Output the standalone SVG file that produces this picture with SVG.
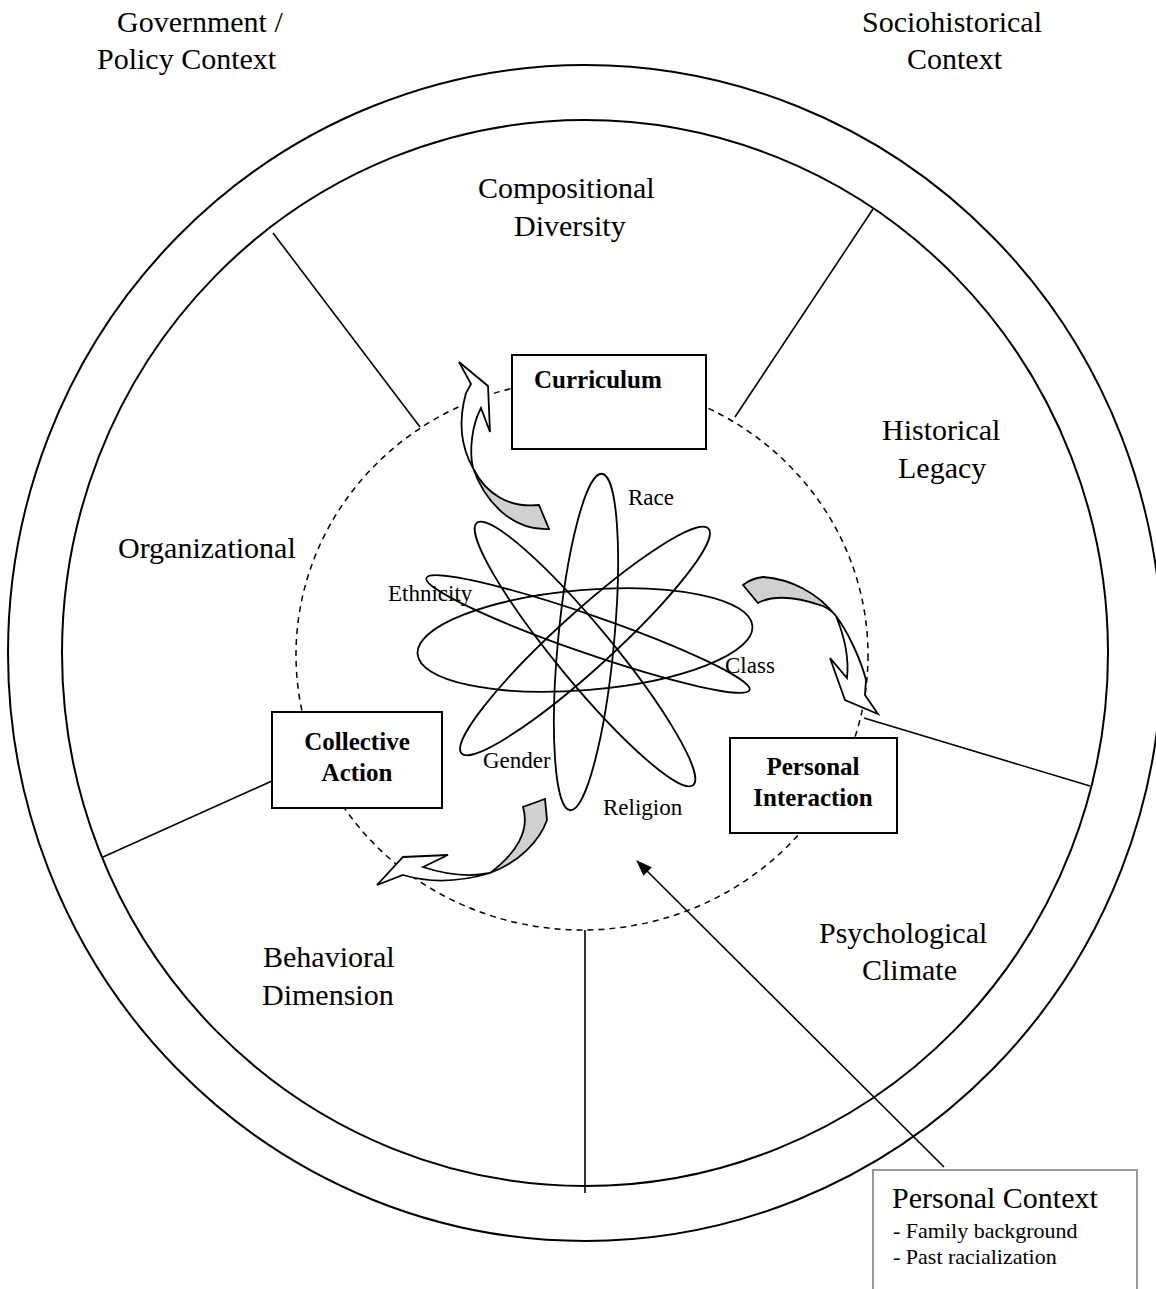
<svg xmlns="http://www.w3.org/2000/svg" width="1156" height="1289" viewBox="0 0 1156 1289">
<style>
.big{font-family:"Liberation Serif","Times New Roman",serif;font-size:30px;fill:#000}
.sm{font-family:"Liberation Serif","Times New Roman",serif;font-size:23px;fill:#000}
.bd{font-family:"Liberation Serif","Times New Roman",serif;font-size:25px;font-weight:bold;fill:#000}
.ln{stroke:#000;stroke-width:1.6;fill:none}
.ring{stroke:#000;stroke-width:2;fill:none}
.box{stroke:#000;stroke-width:2;fill:#fff}
.atom{stroke:#000;stroke-width:1.8;fill:none}
.aw{fill:#fff;stroke:#000;stroke-width:1.8;stroke-linejoin:miter}
.ag{fill:#d0d0d0;stroke:#000;stroke-width:1.8}
</style>
<defs>
<marker id="ah2" viewBox="0 0 16 12" refX="15" refY="6" markerWidth="16" markerHeight="12" markerUnits="userSpaceOnUse" orient="auto">
<path d="M0,0 L16,6 L0,12 z" fill="#000"/>
</marker>
</defs>

<g id="rings">
<ellipse class="ring" cx="585" cy="653" rx="577" ry="588"/>
<ellipse class="ring" cx="585" cy="653" rx="523" ry="533"/>
<ellipse cx="582" cy="655" rx="286" ry="275" fill="none" stroke="#000" stroke-width="1.5" stroke-dasharray="6,5"/>
</g>

<g id="connectors">
<line class="ln" x1="273" y1="233" x2="420" y2="427"/>
<line class="ln" x1="873" y1="209" x2="735" y2="417"/>
<line class="ln" x1="864" y1="718" x2="1090" y2="786"/>
<line class="ln" x1="585" y1="930" x2="585" y2="1193"/>
<line class="ln" x1="103" y1="857" x2="272" y2="781"/>
<line x1="944" y1="1167" x2="637" y2="861" stroke="#000" stroke-width="1.6" marker-end="url(#ah2)"/>
</g>

<g id="atom">
<ellipse class="atom" cx="585" cy="640" rx="168" ry="50" transform="rotate(-4.8 585 640)"/>
<ellipse class="atom" cx="586" cy="642" rx="28" ry="169" transform="rotate(5.4 586 642)"/>
<ellipse class="atom" cx="585" cy="654" rx="170" ry="28" transform="rotate(50.5 585 654)"/>
<ellipse class="atom" cx="585" cy="641" rx="167" ry="28" transform="rotate(-42.3 585 641)"/>
<ellipse class="atom" cx="588" cy="634" rx="171" ry="19" transform="rotate(19.1 588 634)"/>
</g>

<g id="atom-labels">
<text class="sm" x="628" y="505">Race</text>
<text class="sm" x="388" y="601">Ethnicity</text>
<text class="sm" x="725" y="673">Class</text>
<text class="sm" x="483" y="768">Gender</text>
<text class="sm" x="603" y="815">Religion</text>
</g>

<g id="arrow-curriculum">
<path class="ag" d="M473,468 C486,495 510,508 539,505 L549,529 C515,531 486,505 473,468 Z"/>
<path class="aw" d="M459,362 L488,386 L490,432 L481,408 C472,425 469,450 473,468 C460,445 459,418 466,393 L471,384 Z"/>
</g>

<g id="arrow-interaction">
<path class="ag" d="M836,616 C817,592 790,579 763,577 C755,578 748,581 743,585 L758,603 C773,595 797,597 823,606 C829,609 833,612 836,616 Z"/>
<path class="aw" d="M836,616 C848,632 861,660 866,680 L865,695 L878,714 L845,700 L830,658 L847,678 C849,660 845,638 836,616 Z"/>
</g>

<g id="arrow-collective">
<path class="ag" d="M490,873 C520,862 540,840 547,820 L545,799 L523,807 C530,830 517,853 490,873 Z"/>
<path class="aw" d="M490,873 C470,877 447,875 423,867 L448,855 L403,857 L377,885 L403,875 C430,883 460,882 490,873 Z"/>
</g>

<g id="node-curriculum">
<rect class="box" x="512" y="355" width="194" height="94"/>
<text class="bd" x="534" y="388">Curriculum</text>
</g>

<g id="node-collective">
<rect class="box" x="272" y="712" width="170" height="96"/>
<text class="bd" x="357" y="750" text-anchor="middle">Collective</text>
<text class="bd" x="357" y="781" text-anchor="middle">Action</text>
</g>

<g id="node-interaction">
<rect class="box" x="730" y="738" width="167" height="95"/>
<text class="bd" x="813" y="775" text-anchor="middle">Personal</text>
<text class="bd" x="813" y="806" text-anchor="middle">Interaction</text>
</g>

<g id="node-personal-context">
<rect x="873" y="1170" width="264" height="140" fill="#fff" stroke="#999" stroke-width="2"/>
<text class="big" x="892" y="1208">Personal Context</text>
<text class="sm" x="893" y="1238" style="font-size:22px">- Family background</text>
<text class="sm" x="893" y="1264" style="font-size:22px">- Past racialization</text>
</g>

<g id="labels">
<text class="big" x="117" y="32">Government /</text>
<text class="big" x="97" y="69">Policy Context</text>
<text class="big" x="862" y="32">Sociohistorical</text>
<text class="big" x="907" y="69">Context</text>
<text class="big" x="478" y="198">Compositional</text>
<text class="big" x="514" y="236">Diversity</text>
<text class="big" x="882" y="440">Historical</text>
<text class="big" x="898" y="478">Legacy</text>
<text class="big" x="118" y="558">Organizational</text>
<text class="big" x="819" y="943">Psychological</text>
<text class="big" x="862" y="980">Climate</text>
<text class="big" x="263" y="967">Behavioral</text>
<text class="big" x="262" y="1005">Dimension</text>
</g>
</svg>
